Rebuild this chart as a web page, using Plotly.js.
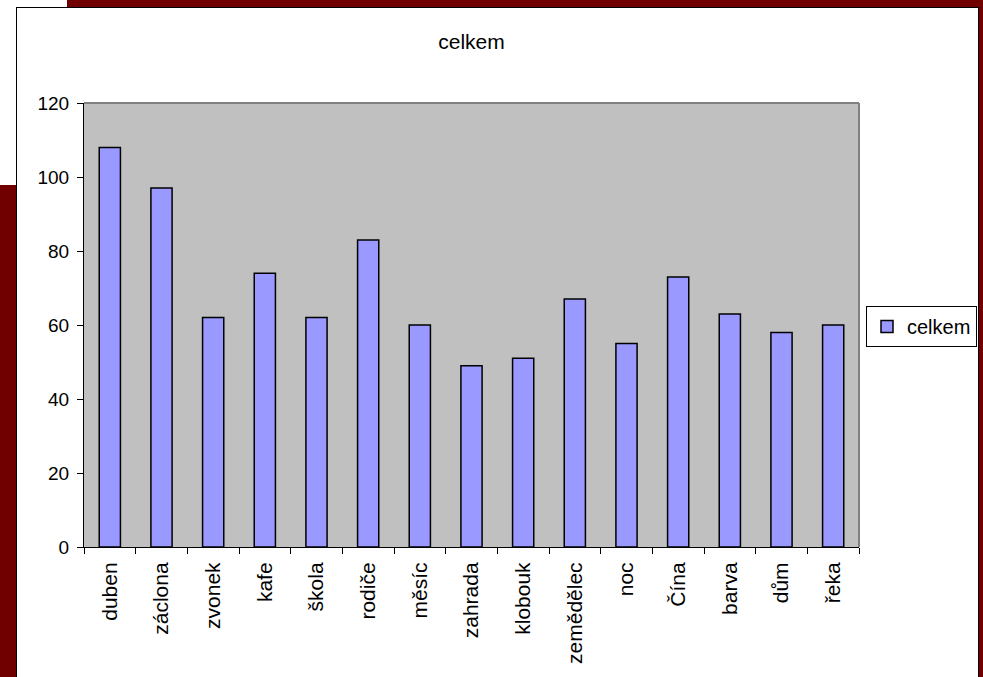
<!DOCTYPE html>
<html>
<head>
<meta charset="utf-8">
<script src="https://cdn.plot.ly/plotly-3.0.1.min.js"></script>
<style>
html,body{margin:0;padding:0;width:983px;height:677px;overflow:hidden;background:#ffffff;}
.maroon{position:absolute;background:#700000;}
#frame{position:absolute;left:16px;top:7px;width:963px;height:680px;border:1px solid #000;background:#fff;box-sizing:border-box;}
#chart{position:absolute;left:0;top:0;width:983px;height:677px;}
</style>
</head>
<body>
<div class="maroon" style="left:67px;top:0;width:916px;height:8px;"></div>
<div class="maroon" style="left:0;top:185px;width:17px;height:492px;"></div>
<div class="maroon" style="left:979px;top:0;width:4px;height:677px;"></div>
<div id="frame"></div>
<div id="chart"></div>
<script>
const categories = ["duben","záclona","zvonek","kafe","škola","rodiče","měsíc","zahrada","klobouk","zemědělec","noc","Čína","barva","dům","řeka"];
const values = [108,97,62,74,62,83,60,49,51,67,55,73,63,58,60];
const seriesName = "celkem";
const titleText = "celkem";

const trace = {
  type: "bar",
  x: categories,
  y: values,
  name: seriesName,
  showlegend: true,
  marker: {color: "#9999FF", line: {color: "#000000", width: 1.5}}
};

const font = "Liberation Sans, Arial, sans-serif";
const layout = {
  width: 983, height: 677,
  margin: {l: 84, r: 124, t: 103, b: 130, pad: 0, autoexpand: false},
  paper_bgcolor: "rgba(0,0,0,0)",
  plot_bgcolor: "#C0C0C0",
  bargap: 0.59,
  font: {family: font, size: 19, color: "#000"},
  title: {text: titleText, font: {family: font, size: 21, color: "#000"}, x: 0.5, xref: "paper", xanchor: "center", y: 1 - 42/677, yanchor: "middle"},
  showlegend: true,
  legend: {
    x: (866-84)/775, y: (547-306)/444, xanchor: "left", yanchor: "top",
    bgcolor: "#ffffff", bordercolor: "#000", borderwidth: 1,
    font: {family: font, size: 20, color: "#000"},
    itemwidth: 30, tracegroupgap: 0
  },
  xaxis: {
    type: "category",
    automargin: false,
    tickangle: -90,
    ticks: "outside", tickson: "boundaries", ticklen: 6, tickcolor: "#000", tickwidth: 1,
    showline: true, linecolor: "#000", linewidth: 1,
    showgrid: false, zeroline: false,
    tickfont: {family: font, size: 21, color: "#000"},
    ticklabelstandoff: 6
  },
  yaxis: {
    automargin: false,
    range: [0, 120], dtick: 20, tick0: 0,
    ticks: "outside", ticklen: 6, tickcolor: "#000", tickwidth: 1,
    showline: true, linecolor: "#000", linewidth: 1,
    showgrid: false, zeroline: false,
    tickfont: {family: font, size: 19, color: "#000"},
    ticklabelstandoff: 4
  },
  shapes: [
    {type: "line", xref: "paper", yref: "paper", x0: 0, x1: 1, y0: 1, y1: 1, line: {color: "#808080", width: 2}, layer: "above"},
    {type: "line", xref: "paper", yref: "paper", x0: 1, x1: 1, y0: 0, y1: 1, line: {color: "#808080", width: 2}, layer: "above"}
  ]
};

Plotly.newPlot("chart", [trace], layout, {displayModeBar: false, staticPlot: true});
</script>
</body>
</html>
